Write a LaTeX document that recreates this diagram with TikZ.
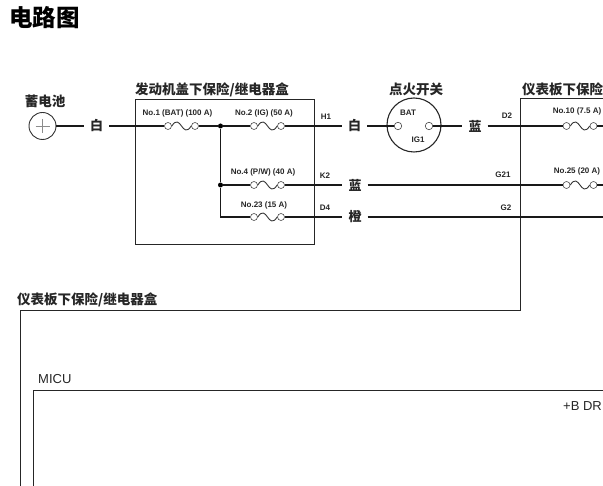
\documentclass[tikz,border=0pt]{standalone}
\usepackage{fontspec}
\usepackage{tikz}
\setmainfont{Liberation Sans}
\newfontfamily\cjk{Noto Sans CJK SC}
\tikzset{
  wire/.style={line width=1.5pt, black!90},
  boxline/.style={line width=0.95pt, black!85},
  contact/.style={circle, draw=black!70, fill=white, line width=0.6pt, inner sep=0pt, minimum size=7pt},
  joint/.style={circle, fill=black, inner sep=0pt, minimum size=5pt},
  wirelabel/.style={font=\cjk\bfseries\fontsize{13}{14}\selectfont, inner sep=6pt, text=black!85},
  boxtitle/.style={font=\cjk\bfseries\fontsize{13.5}{15}\selectfont, inner sep=0pt, text=black!85},
  pinlabel/.style={font=\bfseries\fontsize{8}{9}\selectfont, inner sep=0pt, text=black!85}
}
\newcommand{\fuse}[3]{
  \node[contact] (#1a) at (#2,#3) {};
  \node[contact] (#1b) at (#2+27,#3) {};
  \draw[line width=0.9pt, black!80] (#1a.east) .. controls +(9,-14) and +(-9,14) .. (#1b.west);
}
\begin{document}
\begin{tikzpicture}[x=1pt, y=-1pt]
      \useasboundingbox (0,0) rectangle (603,486);
      \node[font=\cjk\bfseries\fontsize{23.5}{25}\selectfont, anchor=west, inner sep=0pt] (title) at (9,18) {电路图};

      % battery
      \node[circle, draw=black!80, line width=0.9pt, minimum size=27pt, inner sep=0pt] (batt) at (42.5,126) {};
      \draw[black!45, line width=0.5pt] (batt.center) ++(-7,0) -- ++(14,0);
      \draw[black!45, line width=0.5pt] (batt.center) ++(0,-7) -- ++(0,14);
      \node[boxtitle] (battname) at (45,101) {蓄电池};
      \node[wirelabel] (white1) at (96.5,126) {白};

      % box under the hood
      \draw[boxline] (135,99) rectangle (314,244);
      \node[boxtitle, anchor=west] (hoodname) at (135,90) {发动机盖下保险/继电器盒};
      \fuse{no1}{168}{126}
      \fuse{no2}{254}{126}
      \fuse{no4}{254}{185}
      \fuse{no23}{254}{217}
      \node[joint] (jtop) at (220.5,126) {};
      \node[joint] (jmid) at (220.5,185) {};
      \coordinate (jlow) at (220.5,217);
      \node[pinlabel] (no1name) at (177.5,113) {No.1 (BAT) (100 A)};
      \node[pinlabel] (no2name) at (264,113) {No.2 (IG) (50 A)};
      \node[pinlabel] (no4name) at (263,172) {No.4 (P/W) (40 A)};
      \node[pinlabel] (no23name) at (264,205) {No.23 (15 A)};
      \node[pinlabel] (h1) at (326,117) {H1};
      \node[pinlabel] (k2) at (325,176) {K2};
      \node[pinlabel] (d4) at (325,208) {D4};
      \node[wirelabel] (white2) at (354.5,126) {白};
      \node[wirelabel] (blue1) at (355,185) {蓝};
      \node[wirelabel] (orange) at (355,217) {橙};

      % ignition switch
      \node[circle, draw=black!85, line width=1.1pt, minimum size=54pt, inner sep=0pt] (ign) at (414,125) {};
      \node[contact, minimum size=7.5pt] (igna) at (398,126) {};
      \node[contact, minimum size=7.5pt] (ignb) at (429,126) {};
      \node[boxtitle] (ignname) at (416,89) {点火开关};
      \node[pinlabel] (bat) at (408,113) {BAT};
      \node[pinlabel] (ig1) at (418,140) {IG1};
      \node[wirelabel] (blue2) at (475,126) {蓝};

      % dash box
      \coordinate (dashtop) at (603,98);
      \coordinate (dashcorner) at (520,98);
      \coordinate (dashstep) at (520,310);
      \coordinate (dashleft) at (20,310);
      \coordinate (dashend) at (20,486);
      \draw[boxline] (dashtop) -- (dashcorner) -- (dashstep) -- (dashleft) -- (dashend);
      \node[boxtitle, anchor=west] (dashname) at (522,89) {仪表板下保险};
      \node[boxtitle, anchor=west] (dashname2) at (17,300) {仪表板下保险/继电器盒};
      \fuse{no10}{566.5}{126}
      \fuse{no25}{566.5}{185}
      \coordinate (no10end) at (603,126);
      \coordinate (no25end) at (603,185);
      \coordinate (g2end) at (603,217);
      \node[pinlabel] (d2) at (507,116) {D2};
      \node[pinlabel] (g21) at (503,175) {G21};
      \node[pinlabel] (g2) at (506,208) {G2};
      \node[pinlabel] (no10name) at (577,111) {No.10 (7.5 A)};
      \node[pinlabel] (no25name) at (577,171) {No.25 (20 A)};

      % MICU
      \coordinate (micuend) at (33,486);
      \coordinate (micucorner) at (33,390);
      \coordinate (micutop) at (603,390);
      \draw[boxline] (micuend) -- (micucorner) -- (micutop);
      \node[font=\fontsize{13}{14}\selectfont, anchor=west, inner sep=0pt, text=black!85] (micu) at (38,379) {MICU};
      \node[font=\fontsize{13}{14}\selectfont, anchor=west, inner sep=0pt, text=black!85] (bdr) at (563,406) {+B DR};

      % wires
      \draw[wire] (batt) -- (white1);
      \draw[wire] (white1) -- (no1a);
      \draw[wire] (no1b) -- (jtop) -- (no2a);
      \draw[wire] (no2b) -- (white2);
      \draw[wire] (white2) -- (igna);
      \draw[wire] (ignb) -- (blue2);
      \draw[wire] (blue2) -- (no10a);
      \draw[wire] (no10b) -- (no10end);
      \draw[wire] (jtop) -- (jmid) -- (jlow) -- (no23a);
      \draw[wire] (jmid) -- (no4a);
      \draw[wire] (no4b) -- (blue1);
      \draw[wire] (blue1) -- (no25a);
      \draw[wire] (no25b) -- (no25end);
      \draw[wire] (no23b) -- (orange);
      \draw[wire] (orange) -- (g2end);
\end{tikzpicture}
\end{document}
